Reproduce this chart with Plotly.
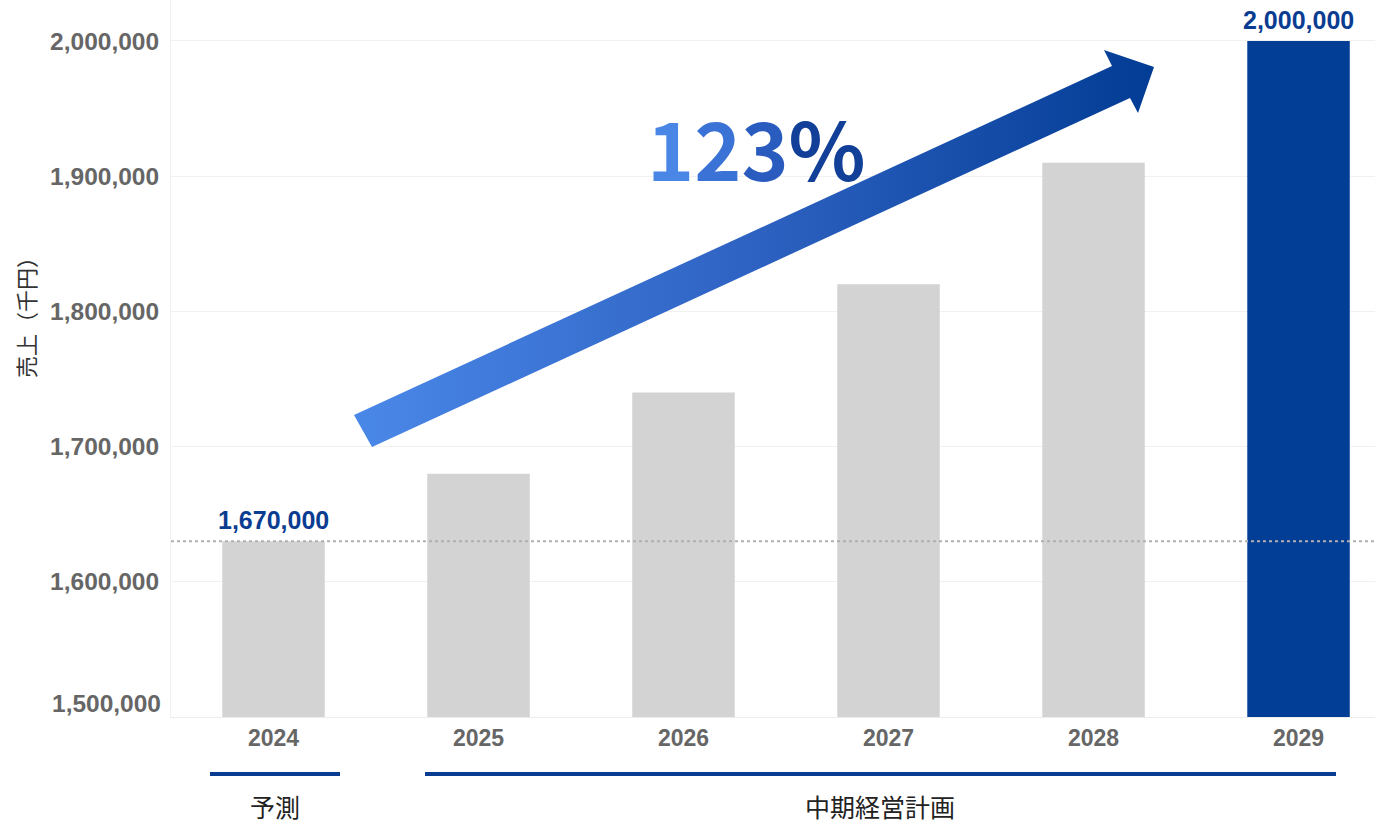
import plotly.graph_objects as go

# ---- data ----
years = ["2024", "2025", "2026", "2027", "2028", "2029"]
sales = [1630000, 1680000, 1740000, 1820000, 1910000, 2000000]
bar_colors = ["#d3d3d3", "#d3d3d3", "#d3d3d3", "#d3d3d3", "#d3d3d3", "#023e96"]
value_labels = ["1,670,000", "", "", "", "", "2,000,000"]
y_ticks = [1500000, 1600000, 1700000, 1800000, 1900000, 2000000]
y_ticktext = ["1,500,000", "1,600,000", "1,700,000", "1,800,000", "1,900,000", "2,000,000"]
growth_text = "123%"
y_title = "売上（千円）"
group_labels = ["予測", "中期経営計画"]

W, H = 1375, 823
ML, MR, MT, MB = 171, 0, 0, 106
PW, PH = W - ML - MR, H - MT - MB


def px(x):
    return (x - ML) / PW


def py(y):
    return 1 - (y - MT) / PH


NAVY = "#0a3d91"
NUMFONT = "Liberation Sans, Arial, sans-serif"
JPFONT = "Noto Sans CJK JP, sans-serif"
TICKFONT = dict(family=NUMFONT, size=24.5, color="#666666", weight=700)

fig = go.Figure()
fig.add_trace(go.Bar(
    x=years, y=sales, marker=dict(color=bar_colors, line=dict(width=0)),
    width=0.5, hoverinfo="skip", showlegend=False,
))

# decorative arrow on a pixel overlay axis
arrow_x = [354, 1112, 1104, 1154, 1138, 1130, 372, 354]
arrow_y = [415, 66, 50, 67, 113, 98, 447, 415]
fig.add_trace(go.Scatter(
    x=arrow_x, y=arrow_y, xaxis="x2", yaxis="y2", mode="lines",
    line=dict(width=0, color="rgba(0,0,0,0)"), fill="toself",
    fillgradient=dict(type="horizontal",
                      colorscale=[[0, "#4a88e8"], [0.5, "#2e62c2"], [1, "#023c94"]]),
    hoverinfo="skip", showlegend=False,
))

annotations = []
for i, (v, lab) in enumerate(zip(sales, value_labels)):
    if lab:
        annotations.append(dict(
            x=i, y=v, xref="x", yref="y", text=f"<b>{lab}</b>", showarrow=False,
            xanchor="center", yanchor="bottom", yshift=5,
            font=dict(family=NUMFONT, size=25, color=NAVY),
        ))

# lowest tick label sits slightly above its gridline in the reference
tick_display = list(y_ticktext)
tick_display[0] = ""
annotations.append(dict(
    x=px(163), y=y_ticks[0], xref="paper", yref="y", text=y_ticktext[0], showarrow=False,
    xanchor="right", yanchor="middle", yshift=14, font=TICKFONT,
))

grad_cols = ["#4a86e6", "#3a72d6", "#2a5cc0", "#123f98"]
growth_html = "".join(f'<span style="color:{c}">{ch}</span>' for ch, c in zip(growth_text, grad_cols))
annotations.append(dict(
    x=px(756), y=py(146), xref="paper", yref="paper", text=growth_html, showarrow=False,
    xanchor="center", yanchor="middle",
    font=dict(family=JPFONT, size=80, weight=700, color="#2a5cc0"),
))
annotations.append(dict(
    x=px(25), y=py(312), xref="paper", yref="paper", text=y_title, showarrow=False,
    textangle=-90, xanchor="center", yanchor="middle",
    font=dict(family=JPFONT, size=22, color="#333333"),
))
annotations.append(dict(
    x=px(275), y=py(806), xref="paper", yref="paper", text=group_labels[0], showarrow=False,
    xanchor="center", yanchor="middle", font=dict(family=JPFONT, size=25, color="#222222"),
))
annotations.append(dict(
    x=px(880), y=py(806), xref="paper", yref="paper", text=group_labels[1], showarrow=False,
    xanchor="center", yanchor="middle", font=dict(family=JPFONT, size=25, color="#222222"),
))

shapes = [
    dict(type="line", xref="paper", yref="y", x0=0, x1=1, y0=sales[0], y1=sales[0],
         line=dict(color="#b0b0b0", width=2, dash="dot"), layer="above"),
    dict(type="line", xref="paper", yref="paper", x0=px(210), x1=px(340), y0=py(774), y1=py(774),
         line=dict(color=NAVY, width=4)),
    dict(type="line", xref="paper", yref="paper", x0=px(425), x1=px(1336), y0=py(774), y1=py(774),
         line=dict(color=NAVY, width=4)),
]

fig.update_layout(
    width=W, height=H, margin=dict(l=ML, r=MR, t=MT, b=MB),
    paper_bgcolor="white", plot_bgcolor="white",
    xaxis=dict(type="category", range=[-0.5, 5.373], showgrid=False, showline=True,
               linecolor="#ececec", linewidth=1, ticks="", zeroline=False,
               tickfont=dict(family=NUMFONT, size=23, color="#666666", weight=700)),
    yaxis=dict(range=[1500000, 2030300], tickvals=y_ticks, ticktext=tick_display,
               showgrid=True, gridcolor="#f1f1f1", gridwidth=1, zeroline=False,
               showline=True, linecolor="#f1f1f1", ticks="", ticklabelstandoff=6,
               tickfont=TICKFONT),
    xaxis2=dict(overlaying="x", range=[ML, W - MR], visible=False, fixedrange=True),
    yaxis2=dict(overlaying="y", range=[MT + PH, MT], visible=False, fixedrange=True),
    annotations=annotations, shapes=shapes, bargap=0.5,
)

fig.write_html("out.html", config={"displayModeBar": False, "staticPlot": True},
               post_script="document.body.style.margin='0';document.body.style.overflow='hidden';")
